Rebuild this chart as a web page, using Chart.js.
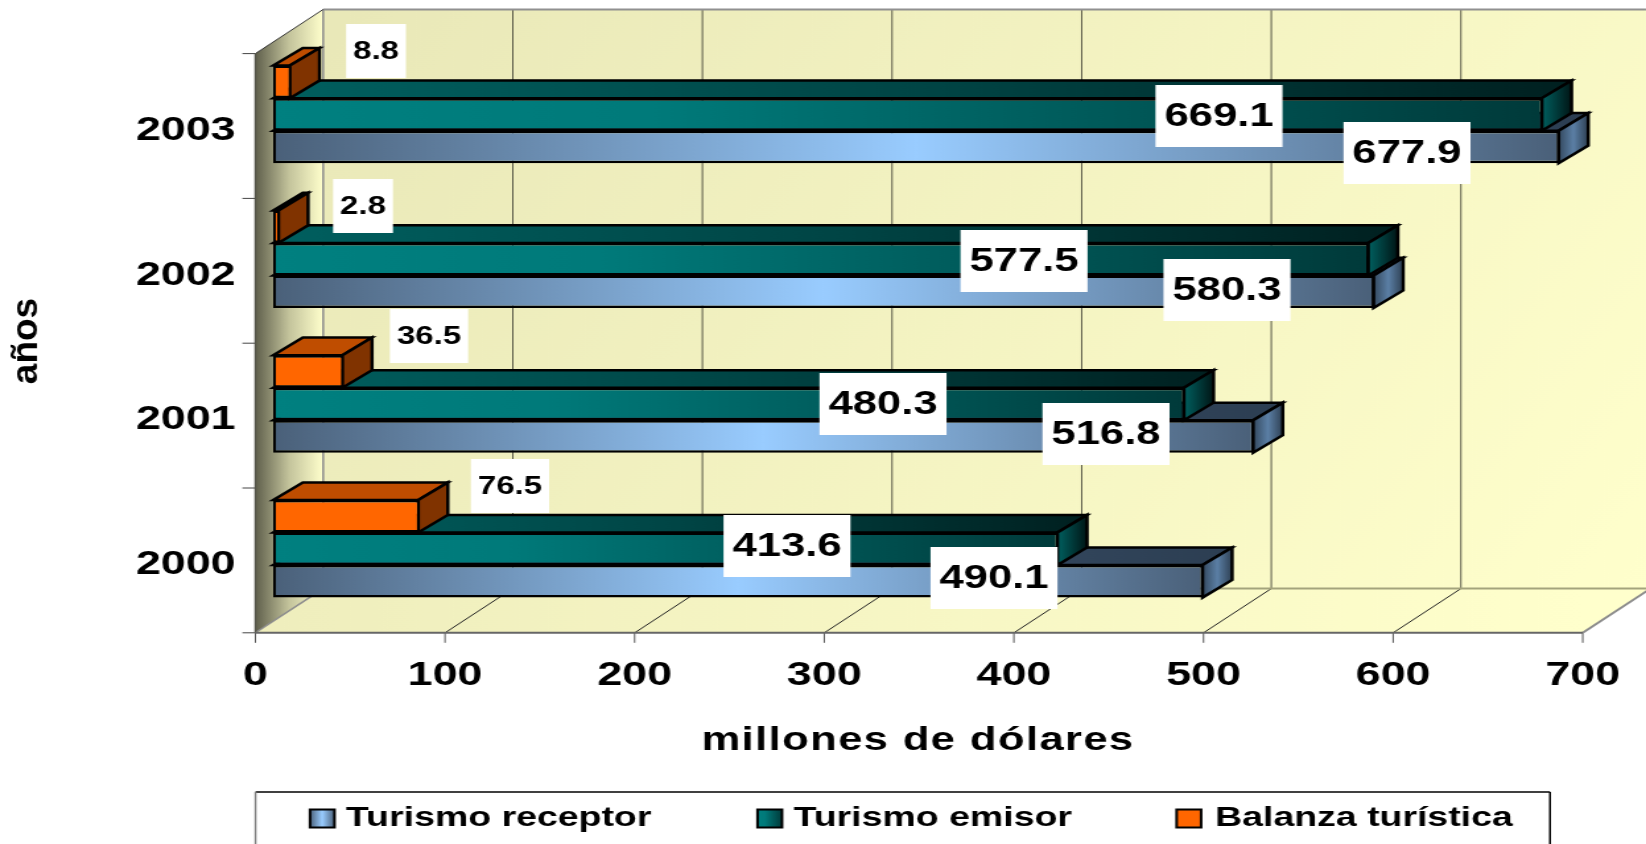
<!DOCTYPE html>
<html lang="es">
<head>
    <meta charset="UTF-8">
    <title>Turismo receptor y emisor</title>
    <script src="https://cdn.jsdelivr.net/npm/chart.js"></script>
    <style>
        html, body { margin: 0; padding: 0; background: #fff; overflow: hidden; }
        /* the original picture is stretched sideways, so the canvas is too */
        #chart { position: absolute; left: 0; top: 0; transform-origin: 0 0; transform: scaleX(1.32); }
    </style>
</head>
<body>
    <canvas id="chart" width="1247" height="844"></canvas>

    <script>
        const years = ["2003", "2002", "2001", "2000"];
        const receptor = [677.9, 580.3, 516.8, 490.1];
        const emisor = [669.1, 577.5, 480.3, 413.6];
        const balanza = [8.8, 2.8, 36.5, 76.5];
        const xTicks = [0, 100, 200, 300, 400, 500, 600, 700];

        const SX = 1.32;
        const W = 1646, H = 844;
        const X = px => px / SX;

        // 3d offsets, in picture pixels
        const PLOT = { left: 273.2, right: 1600.5, top: 42, bottom: 621.2 };
        const FRONT = { dx: 17.8, dy: 11.6 };
        const BACK = { dx: 67.8, dy: 44.2 };
        const DEPTH = { dx: 29.6, dy: 17.6 };

        // hand placed value boxes, centre in picture pixels, same order as years
        const boxReceptor = [[1407, 153], [1227, 290], [1106, 434], [994, 578]];
        const boxEmisor = [[1219, 116], [1024, 261], [883, 404], [787, 546]];
        const boxBalanza = [[376, 51], [363, 206], [429, 336], [510, 486]];

        const FONT = '"Liberation Sans", Arial, sans-serif';

        function grad(ctx, x0, x1, stops) {
            const g = ctx.createLinearGradient(x0, 0, x1, 0);
            stops.forEach(s => g.addColorStop(s[0], s[1]));
            return g;
        }

        const styles = {
            receptor: {
                front: [[0, "#4a6079"], [0.5, "#99ccff"], [1, "#4a6079"]],
                top: [[0, "#2c3e52"], [0.5, "#3c526c"], [1, "#2c3e52"]],
                side: [[0, "#34495f"], [0.5, "#5b7fa5"], [1, "#2e4053"]]
            },
            emisor: {
                front: [[0, "#008080"], [0.3, "#007a7a"], [1, "#003a3a"]],
                top: [[0, "#005f5f"], [0.5, "#004545"], [1, "#002020"]],
                side: [[0, "#006060"], [1, "#001515"]]
            },
            balanza: {
                front: [[0, "#ff6600"], [1, "#ff6600"]],
                top: [[0, "#bf4d00"], [1, "#bf4d00"]],
                side: [[0, "#803300"], [1, "#803300"]]
            }
        };

        function frontFill(key) {
            return function (c) {
                const chart = c.chart;
                if (c.type !== "data" || !chart.chartArea) return styles[key].front[0][1];
                const xs = chart.scales.x;
                return grad(chart.ctx, xs.getPixelForValue(0), xs.getPixelForValue(c.raw), styles[key].front);
            };
        }

        function poly(ctx, pts, fill, stroke, lw) {
            ctx.beginPath();
            pts.forEach((p, i) => i ? ctx.lineTo(p[0], p[1]) : ctx.moveTo(p[0], p[1]));
            ctx.closePath();
            if (fill) { ctx.fillStyle = fill; ctx.fill(); }
            if (stroke) { ctx.strokeStyle = stroke; ctx.lineWidth = lw; ctx.stroke(); }
        }

        function line(ctx, x0, y0, x1, y1, color, lw) {
            ctx.beginPath();
            ctx.moveTo(x0, y0);
            ctx.lineTo(x1, y1);
            ctx.strokeStyle = color;
            ctx.lineWidth = lw;
            ctx.stroke();
        }

        // walls, floor and grid
        const wallsPlugin = {
            id: "walls",
            beforeDraw(chart) {
                const ctx = chart.ctx, xs = chart.scales.x, ys = chart.scales.y;
                const area = chart.chartArea;
                const fx = v => xs.getPixelForValue(v) - X(FRONT.dx);
                const floorY = area.bottom + FRONT.dy;
                const axisTop = area.top + FRONT.dy;
                const bx = X(BACK.dx), by = BACK.dy;
                const x0 = fx(0), x7 = fx(700), right = X(W);

                // back wall
                const gBack = ctx.createLinearGradient(x0 + bx, axisTop - by, x7 + bx, floorY - by);
                gBack.addColorStop(0, "#e9e8b8");
                gBack.addColorStop(1, "#ffffcc");
                poly(ctx, [[x0 + bx, axisTop - by], [right, axisTop - by], [right, floorY - by], [x0 + bx, floorY - by]], gBack);

                // floor
                const gFloor = ctx.createLinearGradient(x0, floorY, x7, floorY - by);
                gFloor.addColorStop(0, "#efeebd");
                gFloor.addColorStop(1, "#ffffcc");
                poly(ctx, [[x0, floorY], [x7, floorY], [x7 + bx, floorY - by], [x0 + bx, floorY - by]], gFloor);

                // left wall
                const gLeft = grad(ctx, x0, x0 + bx, [[0, "#5f5f4c"], [0.5, "#c4c49c"], [1, "#ffffcc"]]);
                poly(ctx, [[x0, axisTop], [x0 + bx, axisTop - by], [x0 + bx, floorY - by], [x0, floorY]], gLeft);

                // grid
                xTicks.forEach(v => {
                    if (v > 0 && v < 700) {
                        line(ctx, fx(v) + bx, axisTop - by, fx(v) + bx, floorY - by, "#5a5a48", 1);
                        line(ctx, fx(v), floorY, fx(v) + bx, floorY - by, "#222", 1);
                    }
                    line(ctx, fx(v), floorY, fx(v), floorY + 10, "#555", 1);
                });
                const band = (area.bottom - area.top) / ys.ticks.length;
                for (let i = 0; i <= ys.ticks.length; i++) {
                    const ty = axisTop + band * i;
                    line(ctx, x0, ty, x0 - X(13), ty, "#444", 1);
                }

                // edges
                line(ctx, x0 + bx, axisTop - by, right, axisTop - by, "#909090", 2);
                line(ctx, x0 + bx, axisTop - by, x0 + bx, floorY - by, "#8c8c8c", 1.5);
                line(ctx, x0 + bx, floorY - by, right, floorY - by, "#a3a37c", 2);
                line(ctx, x0, axisTop, x0 + bx, axisTop - by, "#333", 1);
                line(ctx, x0, floorY, x0 + bx, floorY - by, "#8c8c8c", 1.5);
                line(ctx, x7, floorY, x7 + bx, floorY - by, "#8c8c8c", 2);
                line(ctx, x0, axisTop, x0, floorY, "#55554a", 1.5);
                line(ctx, x0, floorY, x7, floorY, "#666", 2);
            },
            // top and end of each bar go under its front face
            beforeDatasetDraw(chart, args) {
                const ctx = chart.ctx;
                const style = styles[chart.data.datasets[args.index].key];
                const dx = X(DEPTH.dx), dy = DEPTH.dy;
                chart.getDatasetMeta(args.index).data.forEach(bar => {
                    const top = bar.y - bar.height / 2, bottom = bar.y + bar.height / 2;
                    poly(ctx, [[bar.base, top], [bar.x, top], [bar.x + dx, top - dy], [bar.base + dx, top - dy]],
                        grad(ctx, bar.base, bar.x + dx, style.top), "#000", 2.5);
                    poly(ctx, [[bar.x, top], [bar.x + dx, top - dy], [bar.x + dx, bottom - dy], [bar.x, bottom]],
                        grad(ctx, bar.x, bar.x + dx, style.side), "#000", 2.5);
                });
            }
        };

        function valueBoxes(chart, index, boxes, size, pad) {
            const ctx = chart.ctx;
            const values = chart.data.datasets[index].data;
            ctx.font = "bold " + size + "px " + FONT;
            ctx.textAlign = "center";
            ctx.textBaseline = "middle";
            values.forEach((v, i) => {
                const txt = v.toFixed(1);
                const w = ctx.measureText(txt).width + X(pad) * 2;
                const h = size === 33 ? 62 : 54;
                const cx = X(boxes[i][0]), cy = boxes[i][1];
                ctx.fillStyle = "#fff";
                ctx.fillRect(cx - w / 2, cy - h / 2, w, h);
                ctx.fillStyle = "#000";
                ctx.fillText(txt, cx, cy + 1);
            });
        }

        const labelsPlugin = {
            id: "labels",
            afterDatasetsDraw(chart) {
                const ctx = chart.ctx;
                ctx.save();
                valueBoxes(chart, 2, boxReceptor, 33, 9);
                valueBoxes(chart, 1, boxEmisor, 33, 9);
                valueBoxes(chart, 0, boxBalanza, 25, 7);

                // axis titles
                ctx.fillStyle = "#000";
                ctx.textAlign = "center";
                ctx.textBaseline = "middle";
                ctx.font = "bold 33px " + FONT;
                ctx.letterSpacing = "1.05px";
                ctx.fillText("millones de dólares", X(918), 741);
                ctx.letterSpacing = "0px";
                ctx.save();
                ctx.translate(X(27), 341);
                ctx.rotate(-Math.PI / 2);
                ctx.scale(1, 0.75);
                ctx.font = "bold 37px " + FONT;
                ctx.fillText("años", 0, 0);
                ctx.restore();

                // legend frame
                line(ctx, X(255.5), 792, X(1550), 792, "#000", 1.5);
                line(ctx, X(1550), 792, X(1550), H, "#000", 1.5);
                line(ctx, X(255.5), 792, X(255.5), H, "#808080", 1.5);

                const legend = [
                    { name: "Turismo receptor", key: "receptor", x: 310, tx: 346 },
                    { name: "Turismo emisor", key: "emisor", x: 757.5, tx: 793.6 },
                    { name: "Balanza turística", key: "balanza", x: 1176.6, tx: 1215 }
                ];
                ctx.textAlign = "left";
                ctx.font = "bold 28.4px " + FONT;
                legend.forEach(item => {
                    const sx = X(item.x), sw = X(24.5);
                    ctx.fillStyle = grad(ctx, sx, sx + sw, styles[item.key].front);
                    ctx.fillRect(sx, 809.5, sw, 18);
                    ctx.strokeStyle = "#000";
                    ctx.lineWidth = 2;
                    ctx.strokeRect(sx, 809.5, sw, 18);
                    ctx.fillStyle = "#000";
                    ctx.fillText(item.name, X(item.tx), 818);
                });
                ctx.restore();
            }
        };

        function dataset(key, label, values) {
            return {
                key: key,
                label: label,
                data: values,
                backgroundColor: frontFill(key),
                borderColor: "#000",
                borderWidth: { top: 2.5, bottom: 2.5, left: 2, right: key === "balanza" ? 1 : 1.5 },
                borderSkipped: false,
                barPercentage: 1,
                categoryPercentage: 0.674
            };
        }

        new Chart(document.getElementById("chart"), {
            type: "bar",
            data: {
                labels: years,
                datasets: [
                    dataset("balanza", "Balanza turística", balanza),
                    dataset("emisor", "Turismo emisor", emisor),
                    dataset("receptor", "Turismo receptor", receptor)
                ]
            },
            options: {
                indexAxis: "y",
                responsive: false,
                animation: false,
                devicePixelRatio: 1,
                layout: { padding: { left: 0, top: PLOT.top, right: X(W - PLOT.right), bottom: 0 } },
                plugins: { legend: { display: false }, title: { display: false }, tooltip: { enabled: false } },
                scales: {
                    x: {
                        min: 0,
                        max: 700,
                        grid: { display: false },
                        border: { display: false },
                        ticks: {
                            stepSize: 100,
                            maxRotation: 0,
                            padding: 26.2,
                            labelOffset: -X(FRONT.dx),
                            color: "#000",
                            font: { family: FONT, size: 34, weight: "bold" }
                        },
                        afterFit(scale) {
                            scale.height = H - PLOT.bottom;
                            scale.paddingLeft = 0;
                            scale.paddingRight = 0;
                        }
                    },
                    y: {
                        grid: { display: false },
                        border: { display: false },
                        ticks: {
                            padding: X(27),
                            labelOffset: 16,
                            color: "#000",
                            font: { family: FONT, size: 34, weight: "bold" }
                        },
                        afterFit(scale) {
                            scale.width = X(PLOT.left);
                            scale.paddingTop = 0;
                            scale.paddingBottom = 0;
                        }
                    }
                }
            },
            plugins: [wallsPlugin, labelsPlugin]
        });
    </script>
</body>
</html>
